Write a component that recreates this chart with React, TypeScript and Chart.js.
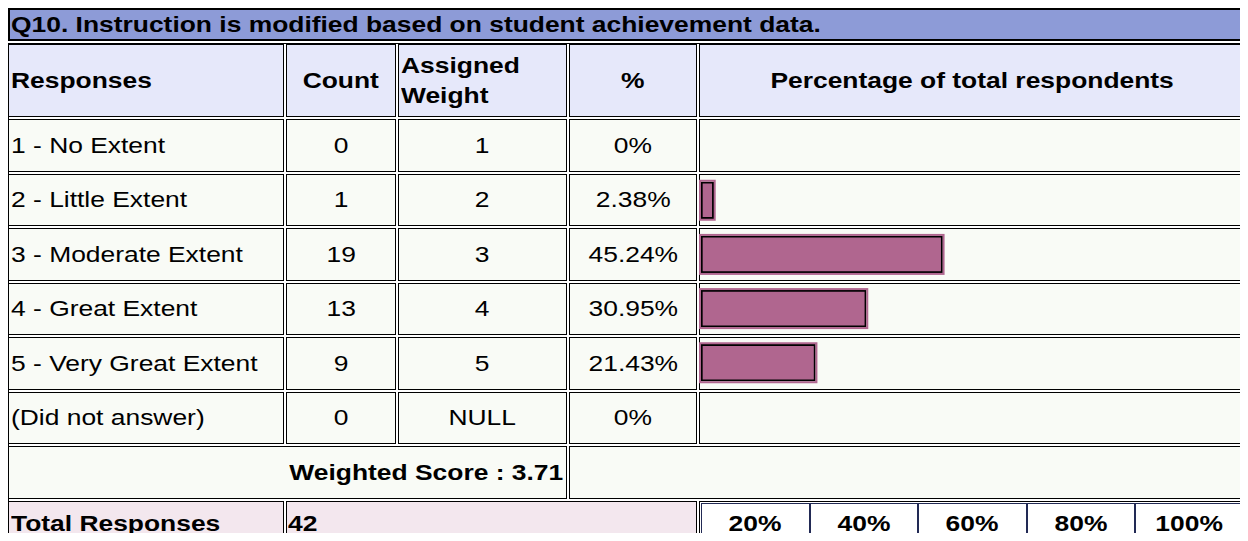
import React, { useEffect, useRef } from "react";
import { Chart, registerables } from "chart.js";

Chart.register(...registerables);

const title = "Q10. Instruction is modified based on student achievement data.";
const headers = ["Responses", "Count", "Assigned Weight", "%", "Percentage of total respondents"];
const responses = [
  "1 - No Extent",
  "2 - Little Extent",
  "3 - Moderate Extent",
  "4 - Great Extent",
  "5 - Very Great Extent",
  "(Did not answer)",
];
const counts = [0, 1, 19, 13, 9, 0];
const weights = ["1", "2", "3", "4", "5", "NULL"];
const percents = [0, 2.38, 45.24, 30.95, 21.43, 0];
const percentLabels = ["0%", "2.38%", "45.24%", "30.95%", "21.43%", "0%"];
const weightedScore = "Weighted Score : 3.71";
const totalLabel = "Total Responses";
const totalCount = 42;
const scaleTicks = ["20%", "40%", "60%", "80%", "100%"];

const FONT = '"Liberation Sans", Arial, Helvetica, sans-serif';
const FS = 22;
const KX = 1.2;

const BAR_FILL = "#B0668F";
const ROW_BG = "#F9FBF6";
const HEAD_BG = "#E6E8FA";
const TITLE_BG = "#8D9BD7";
const TOTAL_BG = "#F3E7EE";

// column outer boxes [left, right)
const COLS: [number, number][] = [
  [8, 284],
  [286, 396],
  [398, 567],
  [569, 697],
  [699, 1246],
];
const HEAD_Y: [number, number] = [44, 117];
const ROW_TOP = 119;
const ROW_BOTTOM = 444;
const WEIGHTED_Y: [number, number] = [446, 499];
const TOTAL_Y: [number, number] = [501, 546];

type Align = "left" | "center" | "right";

function Cell(props: {
  x0: number;
  x1: number;
  y0: number;
  y1: number;
  bg: string;
  children?: React.ReactNode;
  align?: Align;
  bold?: boolean;
  pad?: number;
  border?: string;
}) {
  const { x0, x1, y0, y1, bg, children, align = "left", bold = false, pad = 2, border = "1px solid #000" } = props;
  return (
    <div
      style={{
        position: "absolute",
        left: x0,
        top: y0,
        width: x1 - x0,
        height: y1 - y0,
        boxSizing: "border-box",
        border,
        background: bg,
        display: "flex",
        alignItems: "center",
        justifyContent: align === "left" ? "flex-start" : align === "right" ? "flex-end" : "center",
        paddingLeft: pad,
        paddingRight: pad,
        fontFamily: FONT,
        fontSize: FS,
        fontWeight: bold ? "bold" : "normal",
        color: "#000",
        overflow: "hidden",
        whiteSpace: "nowrap",
      }}
    >
      {children}
    </div>
  );
}

function T(props: { children: React.ReactNode; align?: Align; k?: number; lh?: string }) {
  const { children, align = "left", k = KX, lh = "1.15" } = props;
  return (
    <span
      style={{
        display: "inline-block",
        transform: `scaleX(${k})`,
        transformOrigin: align === "left" ? "left center" : align === "right" ? "right center" : "center center",
        lineHeight: lh,
        whiteSpace: "pre",
      }}
    >
      {children}
    </span>
  );
}

const outerBarPlugin = {
  id: "outerBar",
  afterDatasetsDraw(chart: any) {
    const ctx = chart.ctx;
    const meta = chart.getDatasetMeta(0);
    ctx.save();
    ctx.strokeStyle = BAR_FILL;
    ctx.lineWidth = 2;
    meta.data.forEach((el: any, i: number) => {
      const v = chart.data.datasets[0].data[i];
      if (!v) return;
      const p = el.getProps(["x", "y", "base", "height"], true);
      const left = Math.min(p.base, p.x);
      const right = Math.max(p.base, p.x);
      const top = p.y - p.height / 2;
      ctx.strokeRect(left - 1, top - 1, right - left + 2, p.height + 2);
    });
    ctx.restore();
  },
};

function BarChart() {
  const ref = useRef<HTMLCanvasElement | null>(null);
  useEffect(() => {
    if (!ref.current) return;
    const chart = new Chart(ref.current, {
      type: "bar",
      data: {
        labels: responses,
        datasets: [
          {
            data: percents,
            backgroundColor: BAR_FILL,
            borderColor: "#000",
            borderWidth: 2,
            borderSkipped: false,
            barThickness: 37,
          },
        ],
      },
      options: {
        indexAxis: "y",
        responsive: false,
        maintainAspectRatio: false,
        animation: false,
        layout: { padding: { left: 3, right: 9, top: 0, bottom: 0 } },
        plugins: { legend: { display: false }, tooltip: { enabled: false }, title: { display: false } },
        scales: {
          x: { type: "linear", min: 0, max: 100, display: false },
          y: { type: "category", display: false, offset: true },
        },
      },
      plugins: [outerBarPlugin],
    });
    return () => chart.destroy();
  }, []);
  const w = COLS[4][1] - COLS[4][0] - 1;
  const h = ROW_BOTTOM - ROW_TOP;
  return (
    <canvas
      ref={ref}
      width={w}
      height={h}
      style={{ position: "absolute", left: COLS[4][0] - 1, top: ROW_TOP, width: w, height: h, pointerEvents: "none" }}
    />
  );
}

export default function App() {
  const n = responses.length;
  const pitch = (ROW_BOTTOM - ROW_TOP + 2) / n;
  const rowY = (i: number): [number, number] => [Math.round(ROW_TOP + i * pitch), Math.round(ROW_TOP + (i + 1) * pitch) - 2];

  const cells: React.ReactNode[] = [];
  // header
  const headAlign: Align[] = ["left", "center", "left", "center", "center"];
  headers.forEach((h, c) => {
    cells.push(
      <Cell key={"h" + c} x0={COLS[c][0]} x1={COLS[c][1]} y0={HEAD_Y[0]} y1={HEAD_Y[1]} bg={HEAD_BG} align={headAlign[c]} bold>
        {c === 2 ? (
          <T align="left" lh="30px">{"Assigned\nWeight"}</T>
        ) : (
          <T align={headAlign[c]}>{h}</T>
        )}
      </Cell>
    );
  });
  // rows
  responses.forEach((r, i) => {
    const [y0, y1] = rowY(i);
    const vals: string[] = [r, String(counts[i]), weights[i], percentLabels[i], ""];
    vals.forEach((v, c) => {
      const al: Align = c === 0 ? "left" : "center";
      cells.push(
        <Cell key={"r" + i + "c" + c} x0={COLS[c][0]} x1={COLS[c][1]} y0={y0} y1={y1} bg={ROW_BG} align={al}>
          {v ? <T align={al}>{v}</T> : null}
        </Cell>
      );
    });
  });
  // weighted score row
  cells.push(
    <Cell key="ws" x0={COLS[0][0]} x1={COLS[2][1]} y0={WEIGHTED_Y[0]} y1={WEIGHTED_Y[1]} bg={ROW_BG} align="right" bold pad={3}>
      <T align="right">{weightedScore}</T>
    </Cell>
  );
  cells.push(<Cell key="ws2" x0={COLS[3][0]} x1={COLS[4][1]} y0={WEIGHTED_Y[0]} y1={WEIGHTED_Y[1]} bg={ROW_BG} />);
  // total row
  cells.push(
    <Cell key="tl" x0={COLS[0][0]} x1={COLS[0][1]} y0={TOTAL_Y[0]} y1={TOTAL_Y[1]} bg={TOTAL_BG} bold>
      <T align="left">{totalLabel}</T>
    </Cell>
  );
  cells.push(
    <Cell key="tc" x0={COLS[1][0]} x1={COLS[3][1]} y0={TOTAL_Y[0]} y1={TOTAL_Y[1]} bg={TOTAL_BG} bold pad={1}>
      <T align="left">{String(totalCount)}</T>
    </Cell>
  );
  // scale table
  const sx0 = COLS[4][0];
  const sx1 = COLS[4][1];
  cells.push(
    <div
      key="scaleOuter"
      style={{
        position: "absolute",
        left: sx0,
        top: TOTAL_Y[0],
        width: sx1 - sx0,
        height: TOTAL_Y[1] - TOTAL_Y[0],
        boxSizing: "border-box",
        border: "1px solid #000",
        background: "#fff",
      }}
    />
  );
  const innerL = sx0 + 2;
  const innerR = sx1 - 2;
  const cw = (innerR - innerL) / scaleTicks.length;
  scaleTicks.forEach((t, i) => {
    cells.push(
      <Cell
        key={"sc" + i}
        x0={Math.round(innerL + i * cw)}
        x1={Math.round(innerL + (i + 1) * cw)}
        y0={TOTAL_Y[0] + 2}
        y1={TOTAL_Y[0] + 44}
        bg="#fff"
        align="center"
        bold
        border="1px solid #222a55"
      >
        <T align="center">{t}</T>
      </Cell>
    );
  });

  return (
    <div style={{ position: "relative", width: 1248, height: 541, overflow: "hidden", margin: -8 }}>
      <div
        style={{
          position: "absolute",
          left: 8,
          top: 8,
          width: 1238,
          height: 33,
          boxSizing: "border-box",
          border: "2px solid #000",
          background: TITLE_BG,
          display: "flex",
          alignItems: "center",
          paddingLeft: 1,
          fontFamily: FONT,
          fontSize: FS,
          fontWeight: "bold",
          whiteSpace: "nowrap",
          overflow: "hidden",
        }}
      >
        <T align="left">{title}</T>
      </div>
      <div
        style={{
          position: "absolute",
          left: 8,
          top: 43,
          width: 1238,
          height: 520,
          boxSizing: "border-box",
          border: "1px solid #000",
          background: "#fff",
        }}
      />
      {cells}
      <BarChart />
    </div>
  );
}
